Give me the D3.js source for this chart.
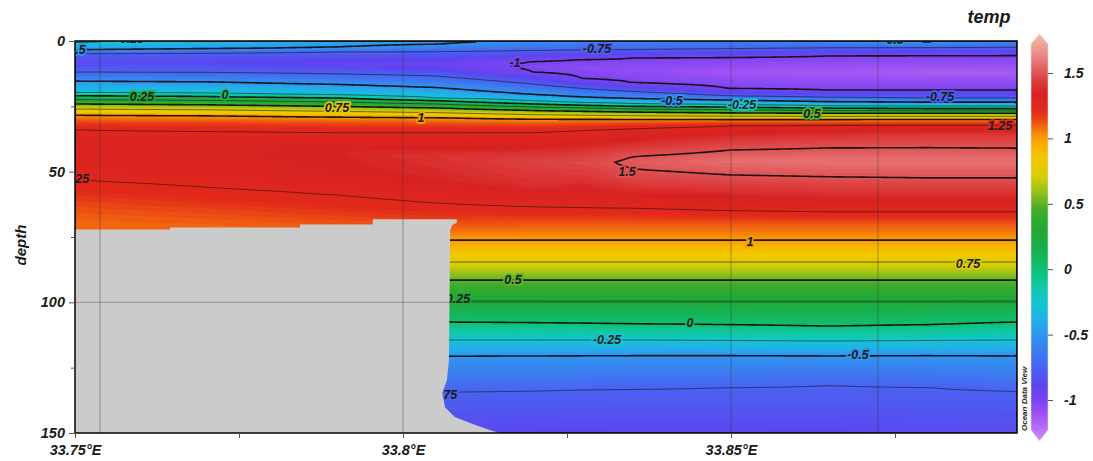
<!DOCTYPE html>
<html>
<head>
<meta charset="utf-8">
<script src="https://cdn.jsdelivr.net/npm/d3@7"></script>
<style>
body { margin: 0; background: #fff; }
text { font-family: "Liberation Sans", Arial, sans-serif; font-weight: bold; font-style: italic; }
</style>
</head>
<body>
<script>
const stationLon = [33.75, 33.77, 33.79, 33.805, 33.82, 33.8275, 33.835, 33.85, 33.865, 33.88, 33.894];
const profiles = [
  [[0,-0.2],[3.4,-0.5],[4.6,-0.75],[8,-0.85],[11.9,-0.75],[15.3,-0.5],[19.9,-0.25],[20.9,0],[22.4,0.25],[24.1,0.5],[26,0.75],[28.3,1.0],[31,1.15],[34,1.25],[40,1.32],[47,1.31],[53.2,1.25],[60,1.17],[68,1.1],[80,1.05],[150,1.0]],
  [[0,-0.3],[3.1,-0.5],[4.4,-0.75],[8,-0.88],[12.1,-0.75],[15.6,-0.5],[20.1,-0.25],[21.2,0],[22.7,0.25],[24.4,0.5],[26.3,0.75],[28.6,1.0],[31.3,1.15],[34.5,1.25],[41,1.33],[48,1.32],[56,1.25],[63,1.17],[70,1.1],[80,1.05],[150,1.0]],
  [[0,-0.42],[2.5,-0.5],[4.2,-0.75],[8.5,-0.92],[12.6,-0.75],[16.6,-0.5],[20.8,-0.25],[21.8,0],[23.3,0.25],[25,0.5],[26.9,0.75],[29,1.0],[31.6,1.15],[35,1.25],[42,1.36],[50,1.34],[59,1.25],[66,1.17],[72,1.1],[80,1.05],[150,1.0]],
  [[0,-0.46],[1.3,-0.5],[4.0,-0.75],[9,-0.95],[13.4,-0.75],[17.8,-0.5],[21.8,-0.25],[22.8,0],[24.1,0.25],[25.6,0.5],[27.4,0.75],[29.3,1.0],[31.8,1.15],[35,1.25],[44,1.4],[53,1.36],[62,1.25],[69,1.15],[76.2,1.0],[84.6,0.75],[91.5,0.5],[99.5,0.25],[107.5,0],[114.4,-0.25],[120.6,-0.5],[134.4,-0.75],[150,-0.86]],
  [[0,-0.52],[3.6,-0.75],[7.6,-1.0],[9.8,-1.025],[12,-1.0],[16.5,-0.75],[20.5,-0.5],[23,-0.25],[24.1,0],[25.2,0.25],[26.6,0.5],[28.2,0.75],[29.8,1.0],[32,1.15],[35,1.25],[46,1.45],[56,1.38],[63.5,1.25],[70,1.12],[76.2,1.0],[84.6,0.75],[91.5,0.5],[99.5,0.25],[107.8,0],[114.4,-0.25],[120.5,-0.5],[133.8,-0.75],[150,-0.87]],
  [[0,-0.55],[3.4,-0.75],[6.9,-1.0],[10.5,-1.05],[14.6,-1.0],[18.2,-0.75],[21.5,-0.5],[23.6,-0.25],[24.6,0],[25.6,0.25],[26.9,0.5],[28.4,0.75],[29.85,1.0],[31.7,1.15],[34.2,1.25],[42,1.4],[46.5,1.47],[53,1.4],[63.8,1.25],[70,1.12],[76.2,1.0],[84.6,0.75],[91.5,0.5],[99.5,0.25],[108,0],[114.4,-0.25],[120.4,-0.5],[133.5,-0.75],[150,-0.875]],
  [[0,-0.58],[3.3,-0.75],[6.5,-1.0],[11,-1.07],[16.1,-1.0],[19.3,-0.75],[22,-0.5],[24,-0.25],[25,0],[26,0.25],[27.2,0.5],[28.6,0.75],[29.9,1.0],[31.5,1.15],[33.5,1.25],[40,1.4],[44.2,1.5],[46.5,1.52],[49,1.5],[55,1.42],[64,1.25],[70,1.12],[76.2,1.0],[84.6,0.75],[91.5,0.5],[99.5,0.25],[108.2,0],[114.4,-0.25],[120.3,-0.5],[133.2,-0.75],[150,-0.88]],
  [[0,-0.6],[3.0,-0.75],[6.1,-1.0],[12,-1.12],[18.4,-1.0],[21,-0.75],[22.6,-0.5],[24.3,-0.25],[25.3,0],[26.3,0.25],[27.5,0.5],[28.8,0.75],[30,1.0],[31.2,1.15],[32.5,1.25],[37,1.4],[41.7,1.5],[46,1.57],[51.3,1.5],[57,1.4],[65,1.25],[70,1.12],[76.2,1.0],[84.6,0.75],[91.5,0.5],[99.5,0.25],[108.6,0],[114.6,-0.25],[120.3,-0.5],[132.6,-0.75],[150,-0.88]],
  [[0,-0.55],[2.6,-0.75],[5.7,-1.0],[12,-1.14],[18.8,-1.0],[21.6,-0.75],[23.2,-0.5],[24.8,-0.25],[25.7,0],[26.6,0.25],[27.6,0.5],[28.9,0.75],[30,1.0],[31.2,1.15],[32.2,1.25],[36,1.4],[40.9,1.5],[46,1.58],[52,1.5],[58,1.4],[65.4,1.25],[70,1.12],[76.2,1.0],[84.6,0.75],[91.5,0.5],[99.5,0.25],[109.1,0],[114.8,-0.25],[120.5,-0.5],[131.8,-0.75],[150,-0.87]],
  [[0,-0.45],[2.5,-0.75],[5.5,-1.0],[12,-1.15],[18.8,-1.0],[21.8,-0.75],[23.4,-0.5],[24.9,-0.25],[25.9,0],[26.7,0.25],[27.6,0.5],[28.9,0.75],[29.9,1.0],[31.2,1.15],[32.1,1.25],[36,1.42],[40.8,1.5],[46,1.58],[52.4,1.5],[58,1.4],[65.4,1.25],[70,1.12],[76.2,1.0],[84.6,0.75],[91.5,0.5],[99.5,0.25],[108.6,0],[114.6,-0.25],[120.3,-0.5],[132.5,-0.75],[150,-0.86]],
  [[0,-0.58],[2.4,-0.75],[5.4,-1.0],[12,-1.15],[18.8,-1.0],[21.8,-0.75],[23.4,-0.5],[24.9,-0.25],[25.9,0],[26.7,0.25],[27.6,0.5],[28.9,0.75],[29.9,1.0],[31.2,1.15],[32.1,1.25],[36,1.42],[41,1.5],[46,1.58],[52.4,1.5],[58,1.4],[65.4,1.25],[70,1.12],[76.2,1.0],[84.6,0.75],[91.5,0.5],[99.5,0.25],[107.5,0],[114.4,-0.25],[120.5,-0.5],[134,-0.75],[150,-0.86]]
];

// sea floor outline (lon, depth)
const bottomLon = [33.75, 33.7645, 33.7645, 33.7843, 33.7843, 33.7954, 33.7954, 33.8082, 33.8082, 33.8075, 33.8072, 33.8070, 33.8067, 33.8060, 33.8064, 33.8079, 33.8102, 33.8133, 33.8148, 33.75];
const bottomDepth = [72.1, 72.1, 71.4, 71.4, 70.2, 70.2, 68.2, 68.2, 69.5, 70.4, 72.3, 122.1, 129.7, 134.7, 140.1, 143.9, 146.2, 148.9, 150, 150];

const lineLevels = [-1, -0.75, -0.5, -0.25, 0, 0.25, 0.5, 0.75, 1, 1.25, 1.5];

const labelText = ["-0.25","-0.5","0.25","0","0.75","1","-1","-0.75","-0.5","-0.25","-0.5","-0.75","0.5","1.25","1.5","1.25","1","0.75","0.5","0.25","0","-0.25","-0.5","-0.75"];
const labelLon = [33.75838, 33.7500, 33.76021, 33.77287, 33.78994, 33.80274, 33.81707, 33.82957, 33.8410, 33.85168, 33.8747, 33.88186, 33.86235, 33.8910, 33.83415, 33.7503, 33.8529, 33.88613, 33.81677, 33.80838, 33.84375, 33.8311, 33.86936, 33.80610];
const labelDepth = [-0.8, 3.4, 21.4, 20.7, 25.6, 29.5, 8.4, 3.1, 23.0, 24.5, -0.4, 21.4, 27.6, 32.5, 50.1, 52.8, 76.9, 85.0, 91.5, 98.4, 107.9, 114.4, 120.2, 135.5];

const lonTicks = [33.75, 33.8, 33.85];
const lonMinor = [33.775, 33.825, 33.875];
const depthTicks = [0, 50, 100, 150];
const depthMinor = [25, 75, 125];
const extraLines = [33.7538, 33.8724];
const colorTicks = [-1, -0.5, 0, 0.5, 1, 1.5];

const colorStops = [-1.32, -1.2, -1.1, -1.0, -0.88, -0.75, -0.62, -0.5, -0.38, -0.25, -0.12, 0, 0.15, 0.3, 0.45, 0.58, 0.7, 0.85, 1.0, 1.1, 1.2, 1.35, 1.5, 1.65, 1.82];
const colorRamp = ["#d890f4", "#b468f4", "#9c50f4", "#7a44f2", "#5c44f0", "#4a62f0", "#3a7ef0", "#3094f0", "#22b0ea", "#14c6d0", "#10c8a0", "#10c070", "#18b04c", "#22a834", "#40ac2c", "#90c01c", "#d4cc04", "#f4c800", "#f8a000", "#f06010", "#e22a1a", "#d82222", "#e05252", "#ec8e8e", "#f6c4a2"];

const width = 1093;
const height = 461;
const plot = {left: 75, top: 41, right: 1017, bottom: 433};

const svg = d3.select('body').append('svg')
    .attr('width', width)
    .attr('height', height);

const xScale = d3.scaleLinear().domain([33.75, 33.8936]).range([plot.left, plot.right]);
const yScale = d3.scaleLinear().domain([0, 150]).range([plot.top, plot.bottom]);
const colorScale = d3.scaleLinear().domain(colorStops).range(colorRamp).clamp(true);

function profileAt(p, d) {
    if (d <= p[0][0]) return p[0][1];
    for (let k = 1; k < p.length; k++) {
        if (d <= p[k][0]) {
            const t = (d - p[k - 1][0]) / (p[k][0] - p[k - 1][0]);
            return p[k - 1][1] + t * (p[k][1] - p[k - 1][1]);
        }
    }
    return p[p.length - 1][1];
}

function fieldAt(lon, d) {
    let k = d3.bisectRight(stationLon, lon) - 1;
    k = Math.max(0, Math.min(stationLon.length - 2, k));
    let t = (lon - stationLon[k]) / (stationLon[k + 1] - stationLon[k]);
    t = Math.max(0, Math.min(1, t));
    return profileAt(profiles[k], d) * (1 - t) + profileAt(profiles[k + 1], d) * t;
}

// grid the section
const nx = 314, ny = 196;
const gx = d3.scaleLinear().domain([0, nx]).range(xScale.domain());
const gy = d3.scaleLinear().domain([0, ny]).range(yScale.domain());
const grid = new Array(nx * ny);
for (let j = 0; j < ny; j++) {
    for (let i = 0; i < nx; i++) {
        grid[j * nx + i] = fieldAt(gx(i + 0.5), gy(j + 0.5));
    }
}

const project = d3.geoTransform({
    point: function (px, py) { this.stream.point(xScale(gx(px)), yScale(gy(py))); }
});
const path = d3.geoPath(project);

svg.append('clipPath').attr('id', 'plotclip')
    .append('rect')
    .attr('x', plot.left).attr('y', plot.top)
    .attr('width', plot.right - plot.left).attr('height', plot.bottom - plot.top);

const field = svg.append('g').attr('clip-path', 'url(#plotclip)');

field.append('rect')
    .attr('x', plot.left).attr('y', plot.top)
    .attr('width', plot.right - plot.left).attr('height', plot.bottom - plot.top)
    .attr('fill', colorScale(d3.min(grid)));

// colour bands
const step = 0.02;
const fillLevels = d3.range(-1.30, 1.80, step);
const bands = d3.contours().size([nx, ny]).thresholds(fillLevels)(grid);
field.append('g')
    .selectAll('path')
    .data(bands)
    .enter()
    .append('path')
    .attr('d', path)
    .attr('fill', d => colorScale(d.value + step / 2));

// contour lines
const isMajor = v => Math.abs(v * 2 - Math.round(v * 2)) < 1e-6;
const isolines = d3.contours().size([nx, ny]).thresholds(lineLevels)(grid);
field.append('g')
    .selectAll('path')
    .data(isolines)
    .enter()
    .append('path')
    .attr('d', path)
    .attr('fill', 'none')
    .attr('stroke', '#111')
    .attr('stroke-opacity', d => isMajor(d.value) ? 0.95 : 0.7)
    .attr('stroke-width', d => isMajor(d.value) ? 1.6 : 0.8);

// contour labels
field.append('g')
    .selectAll('text')
    .data(labelText)
    .enter()
    .append('text')
    .attr('x', (d, i) => xScale(labelLon[i]))
    .attr('y', (d, i) => yScale(labelDepth[i]))
    .attr('dy', '0.35em')
    .attr('text-anchor', 'middle')
    .attr('font-size', 12.5)
    .attr('fill', '#1a1a1a')
    .attr('stroke', d => colorScale(+d))
    .attr('stroke-width', 3.5)
    .attr('stroke-linejoin', 'round')
    .attr('paint-order', 'stroke')
    .text(d => d);

// sea floor
const floorLine = d3.line()
    .x(d => xScale(d[0]))
    .y(d => yScale(d[1]));
field.append('path')
    .datum(bottomLon.map((lon, i) => [lon, bottomDepth[i]]))
    .attr('d', d => floorLine(d) + 'Z')
    .attr('fill', '#cbcbcb');

// grid
field.append('g')
    .selectAll('line')
    .data(lonTicks.slice(1).concat(extraLines))
    .enter()
    .append('line')
    .attr('x1', d => xScale(d)).attr('x2', d => xScale(d))
    .attr('y1', plot.top).attr('y2', plot.bottom)
    .attr('stroke', '#333').attr('stroke-opacity', 0.5).attr('stroke-width', 0.8);
field.append('g')
    .selectAll('line')
    .data([100])
    .enter()
    .append('line')
    .attr('x1', plot.left).attr('x2', plot.right)
    .attr('y1', d => yScale(d)).attr('y2', d => yScale(d))
    .attr('stroke', '#333').attr('stroke-opacity', 0.45).attr('stroke-width', 0.8);

svg.append('rect')
    .attr('x', plot.left).attr('y', plot.top)
    .attr('width', plot.right - plot.left).attr('height', plot.bottom - plot.top)
    .attr('fill', 'none').attr('stroke', '#111').attr('stroke-width', 1.6);

// axes
const yAxis = d3.axisLeft(yScale).tickValues(depthTicks).tickSize(6).tickPadding(4).tickFormat(d => d);
const yAxisMinor = d3.axisLeft(yScale).tickValues(depthMinor).tickSize(4).tickFormat('');
const xAxis = d3.axisBottom(xScale).tickValues(lonTicks).tickSize(5).tickPadding(7).tickFormat(d => d + '°E');
const xAxisMinor = d3.axisBottom(xScale).tickValues(lonMinor).tickSize(5).tickFormat('');

function styleAxis(g) {
    g.select('.domain').remove();
    g.selectAll('line').attr('stroke', '#555');
    g.selectAll('text').attr('fill', '#1a1a1a').attr('font-size', 14.5)
        .attr('font-family', '"Liberation Sans", Arial, sans-serif');
}

svg.append('g').attr('transform', `translate(${plot.left},0)`).call(yAxis).call(styleAxis);
svg.append('g').attr('transform', `translate(${plot.left},0)`).call(yAxisMinor).call(styleAxis);
svg.append('g').attr('transform', `translate(0,${plot.bottom})`).call(xAxis).call(styleAxis);
svg.append('g').attr('transform', `translate(0,${plot.bottom})`).call(xAxisMinor).call(styleAxis);

svg.append('text')
    .attr('transform', `translate(26,${(plot.top + plot.bottom) / 2 + 8}) rotate(-90)`)
    .attr('text-anchor', 'middle')
    .attr('font-size', 15)
    .attr('fill', '#1a1a1a')
    .text('depth');

svg.append('text')
    .attr('x', 989).attr('y', 23)
    .attr('text-anchor', 'middle')
    .attr('font-size', 18)
    .attr('fill', '#1a1a1a')
    .text('temp');

svg.append('text')
    .attr('transform', `translate(1027,${plot.bottom - 2}) rotate(-90)`)
    .attr('text-anchor', 'start')
    .attr('font-size', 8)
    .attr('font-style', 'normal')
    .attr('fill', '#222')
    .text('Ocean Data View');

// colour bar
const cb = {left: 1031, right: 1048, tipTop: 34, top: 44, bottom: 430, tipBottom: 441};
const cbScale = d3.scaleLinear().domain([-1, 1.5]).range([400, 73]);

const grad = svg.append('defs').append('linearGradient')
    .attr('id', 'cbgrad')
    .attr('gradientUnits', 'userSpaceOnUse')
    .attr('x1', 0).attr('x2', 0)
    .attr('y1', cb.tipTop).attr('y2', cb.tipBottom);
const gradVals = d3.range(0, 61).map(k => cbScale.invert(cb.tipTop + (cb.tipBottom - cb.tipTop) * k / 60));
grad.selectAll('stop')
    .data(gradVals)
    .enter()
    .append('stop')
    .attr('offset', (d, k) => (k / 60 * 100) + '%')
    .attr('stop-color', d => colorScale(d));

const cx = (cb.left + cb.right) / 2;
svg.append('path')
    .attr('d', `M${cx},${cb.tipTop}L${cb.right},${cb.top}L${cb.right},${cb.bottom}L${cx},${cb.tipBottom}L${cb.left},${cb.bottom}L${cb.left},${cb.top}Z`)
    .attr('fill', 'url(#cbgrad)')
    .attr('stroke', '#ddd')
    .attr('stroke-width', 0.6);

const cAxis = d3.axisRight(cbScale).tickValues(colorTicks).tickSize(5).tickPadding(11).tickFormat(d => d);
svg.append('g').attr('transform', `translate(${cb.right},0)`).call(cAxis).call(styleAxis)
    .selectAll('text').attr('font-size', 14);
</script>
</body>
</html>
